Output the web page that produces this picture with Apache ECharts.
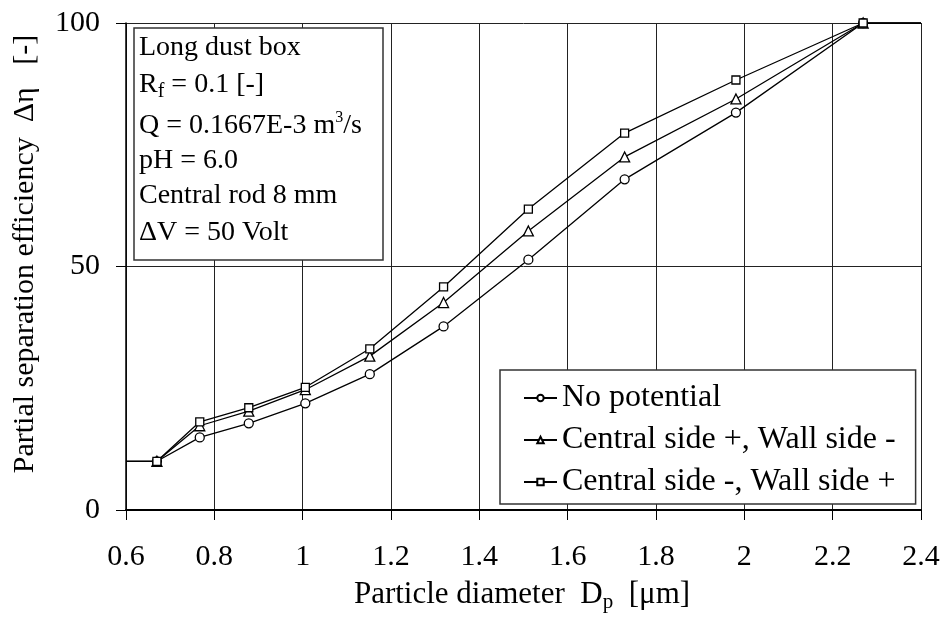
<!DOCTYPE html>
<html><head><meta charset="utf-8">
<script src="https://cdn.jsdelivr.net/npm/echarts@6/dist/echarts.min.js"></script>
<style>html,body{margin:0;padding:0;background:#fff}#c{width:943px;height:618px}</style>
</head><body><div id="c"></div>
<script>
// ---- data ----
const diameters    = [0.670, 0.767, 0.878, 1.006, 1.152, 1.319, 1.511, 1.729, 1.981, 2.269];
const noPotential  = [10, 14.9, 17.8, 21.9, 27.9, 37.7, 51.4, 67.9, 81.6, 100];
const centralPlus  = [10, 17.3, 20.3, 24.7, 31.6, 42.6, 57.3, 72.5, 84.4, 100];
const centralMinus = [10, 18.1, 21.0, 25.2, 33.1, 45.8, 61.8, 77.4, 88.3, 100];
const seriesNames  = ['No potential', 'Central side +, Wall side -', 'Central side -, Wall side +'];
const seriesSymbols = ['circle', 'triangle', 'rect'];
const xStart = 0.6, xEnd = 2.4;          // flat lead-in / lead-out of each curve
const xMin = 0.6, xMax = 2.4, xStep = 0.2;
const yMin = 0, yMax = 100, yStep = 50;
const boxLines = ['Long dust box', '{n|R}{sub|f}{n| = 0.1 [-]}', '{n|Q = 0.1667E-3 m}{sup|3}{n|/s}',
                  'pH = 6.0', 'Central rod 8 mm', 'ΔV = 50 Volt'];

const FONT = '"Liberation Serif", "Times New Roman", serif';
const chart = echarts.init(document.getElementById('c'), null, {renderer: 'canvas'});

function buildData(vals) {
  const d = [{value: [xStart, vals[0]], symbol: 'none'}];
  diameters.forEach((x, i) => d.push([x, vals[i]]));
  d.push({value: [xEnd, vals[vals.length - 1]], symbol: 'none'});
  return d;
}
const allVals = [noPotential, centralPlus, centralMinus];
const symSizes = [9, 10, 8];

const boxY = [48, 85, 126, 161, 196, 233];
const graphics = [
  {type: 'rect', z: 100, shape: {x: 134, y: 28, width: 249, height: 232},
   style: {fill: '#fff', stroke: '#333', lineWidth: 1.5}},
  {type: 'text', z: 100, x: 25, y: 254, rotation: Math.PI / 2,
   style: {text: 'Partial separation efficiency  Δη   [-]', fill: '#000', fontSize: 30, fontFamily: FONT,
           align: 'center', verticalAlign: 'middle'}},
  {type: 'text', z: 100, x: 522, y: 595,
   style: {text: '{n|Particle diameter  D}{s|p}{n|  [μm]}', fill: '#000', align: 'center', verticalAlign: 'middle',
           rich: {n: {fontSize: 31, fontFamily: FONT, fill: '#000'},
                  s: {fontSize: 21, fontFamily: FONT, fill: '#000', padding: [14, 0, 0, 0]}}}}
];
boxLines.forEach((t, i) => {
  graphics.push({type: 'text', z: 101, x: 139, y: boxY[i],
    style: {text: t, fill: '#000', fontSize: 28, fontFamily: FONT, align: 'left', verticalAlign: 'middle',
      rich: {n: {fontSize: 28, fontFamily: FONT, fill: '#000'},
             sub: {fontSize: 20, fontFamily: FONT, fill: '#000', padding: [13, 0, 0, 0]},
             sup: {fontSize: 16, fontFamily: FONT, fill: '#000', padding: [0, 0, 16, 0]}}}});
});

chart.setOption({
  animation: false,
  backgroundColor: '#fff',
  grid: {left: 126, right: 22, top: 23, bottom: 108, containLabel: false},
  xAxis: {
    type: 'value', min: xMin, max: xMax, interval: xStep,
    axisLine: {onZero: false, lineStyle: {color: '#000', width: 2}},
    axisTick: {show: true, inside: false, length: 10, lineStyle: {color: '#000', width: 1}},
    axisLabel: {margin: 32, fontSize: 30, fontFamily: FONT, color: '#000', lineHeight: 30},
    splitLine: {show: true, lineStyle: {color: '#222', width: 1}}
  },
  yAxis: {
    type: 'value', min: yMin, max: yMax, interval: yStep,
    axisLine: {show: true, onZero: false, lineStyle: {color: '#000', width: 1.5}},
    axisTick: {show: true, inside: false, length: 10, lineStyle: {color: '#000', width: 1}},
    axisLabel: {margin: 26, fontSize: 30, fontFamily: FONT, color: '#000'},
    splitLine: {show: true, lineStyle: {color: '#222', width: 1}}
  },
  legend: {
    orient: 'vertical', left: 500, top: 370, padding: [12, 20, 6, 23], itemGap: 10,
    itemWidth: 33, itemHeight: 8,
    backgroundColor: '#fff', borderColor: '#333', borderWidth: 1.5,
    textStyle: {fontSize: 32, fontFamily: FONT, color: '#000', lineHeight: 30},
    data: seriesNames
  },
  series: seriesNames.map((name, k) => ({
    name, type: 'line', data: buildData(allVals[k]),
    symbol: seriesSymbols[k], symbolSize: symSizes[k], showAllSymbol: true,
    lineStyle: {color: '#000', width: 1.3},
    itemStyle: {color: '#fff', borderColor: '#000', borderWidth: 1.3},
    emphasis: {disabled: true}, z: 3 + k
  })),
  graphic: graphics
});
</script></body></html>
